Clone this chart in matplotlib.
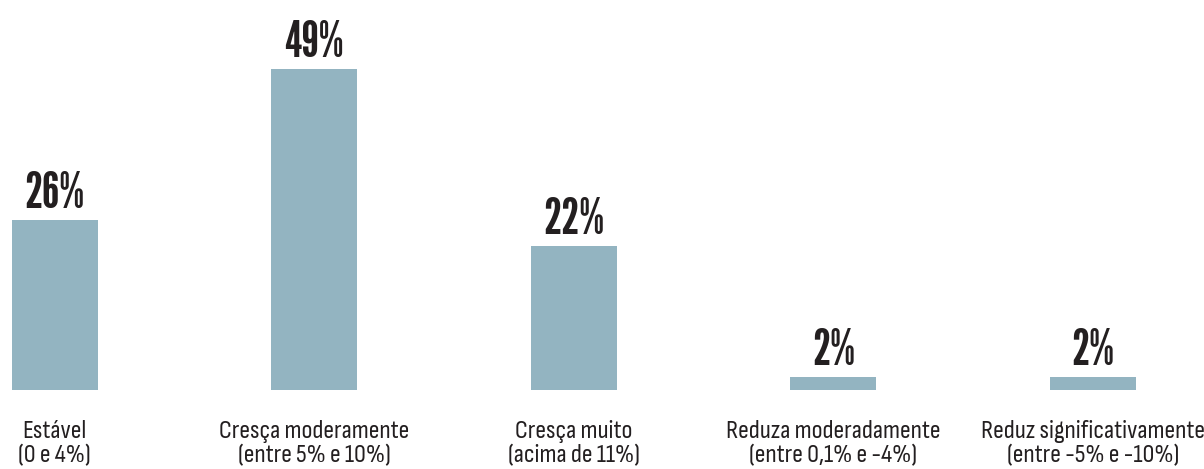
import matplotlib
matplotlib.use('Agg')
import matplotlib.pyplot as plt

# data
categories = ['Estável\n(0 e 4%)',
              'Cresça moderamente\n(entre 5% e 10%)',
              'Cresça muito\n(acima de 11%)',
              'Reduza moderadamente\n(entre 0,1% e -4%)',
              'Reduz significativamente\n(entre -5% e -10%)']
values = [26, 49, 22, 2, 2]
value_labels = ['26%', '49%', '22%', '2%', '2%']

# styles
bar_color = '#93b4c1'
text_color = '#231f20'
value_font = ['League Gothic', 'DejaVu Sans']
label_font = ['Sofia Sans Condensed', 'DejaVu Sans']

fig = plt.figure(figsize=(12.04, 4.69), dpi=100)
# baseline sits 79 px above the bottom edge
ax = fig.add_axes([0, 79 / 469, 1, 390 / 469])

x = list(range(len(values)))
ax.bar(x, values, width=0.331, color=bar_color)

ax.set_xlim(-0.211, 4.428)
ax.set_ylim(0, 390 / 6.55)

# value labels above the bars
for xi, v, lab in zip(x, values, value_labels):
    ax.annotate(lab, (xi, v), xytext=(0, 8.6), textcoords='offset points',
                ha='center', va='baseline', fontsize=36,
                family=value_font, color=text_color)

ax.set_xticks(x)
ax.set_xticklabels(categories, family=label_font, fontsize=19,
                   color=text_color, linespacing=1.08)
ax.tick_params(axis='x', length=0, pad=21.5)
ax.set_yticks([])
for s in ax.spines.values():
    s.set_visible(False)

fig.savefig('out.png', dpi=100)
